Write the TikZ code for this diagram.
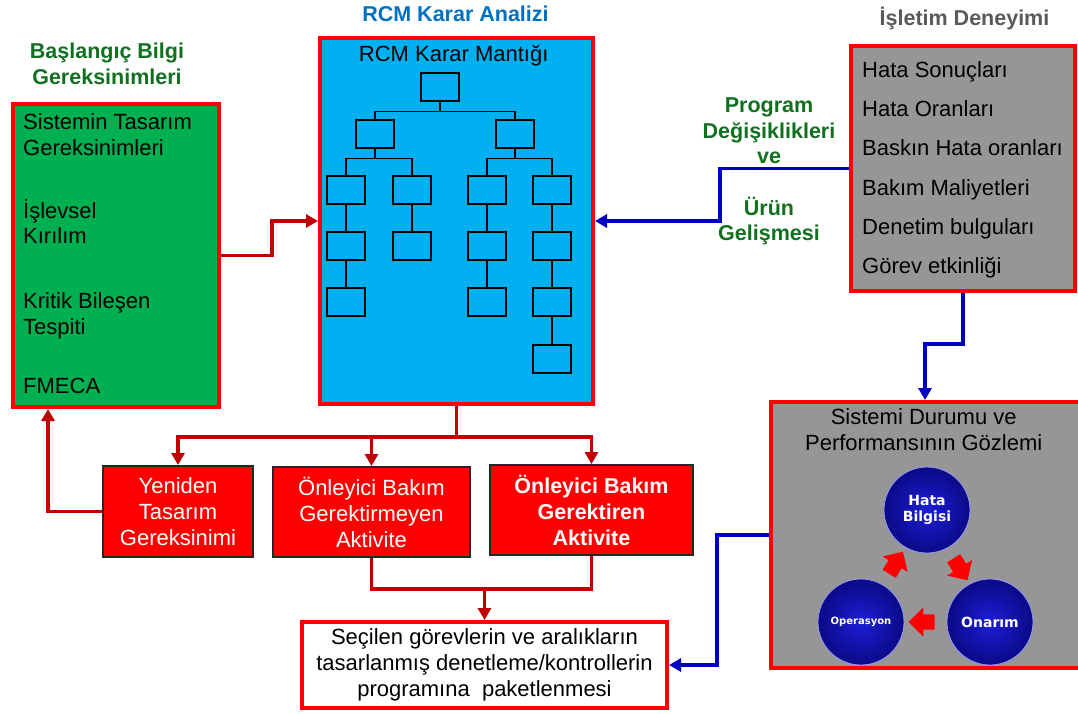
\documentclass[tikz,border=0pt]{standalone}
\usepackage{fontspec}
\setmainfont{Liberation Sans}
\newfontfamily\ballfont{DejaVu Sans}
\usetikzlibrary{arrows.meta}
\usetikzlibrary{positioning}
\usetikzlibrary{shapes.arrows}
\usetikzlibrary{calc}
\definecolor{mred}{rgb}{1, 0, 0}
\definecolor{dred}{RGB}{192, 0, 0}
\definecolor{mblue}{RGB}{0, 0, 195}
\definecolor{mgreen}{RGB}{0, 176, 80}
\definecolor{tgreen}{RGB}{16, 112, 32}
\definecolor{sky}{RGB}{0, 176, 240}
\definecolor{mgray}{RGB}{150, 150, 150}
\definecolor{tgray}{RGB}{89, 89, 89}
\definecolor{tblue}{RGB}{0, 112, 192}
\definecolor{orbin}{RGB}{30, 30, 215}
\definecolor{orbout}{RGB}{10, 10, 135}
\tikzset{
  panel/.style = {draw = mred, line width = 4, inner sep = 0},
  leaf/.style = {draw, line width = 1.3, minimum width = 38, minimum height = 28, inner sep = 0},
  twig/.style = {line width = 1.3},
  redbox/.style = {fill = mred, draw = black!85, line width = 2, text = white, align = center, inner sep = 0},
  title/.style = {font = \fontsize{21.5}{25.5}\selectfont\bfseries, align = center},
  item/.style = {anchor = base west, inner sep = 0},
  rline/.style = {draw = dred, line width = 3.5},
  bline/.style = {draw = mblue, line width = 3.5},
  tip/.style = {-{Triangle[length = 12, width = 13]}},
  orb/.style = {circle, minimum size = 86, inner color = orbin, outer color = orbout, draw = blue!40!white, line width = 0.8,
    text = white, align = center, inner sep = 0},
  turn/.style = {single arrow, fill = mred, minimum height = 26, inner sep = 7.5, single arrow head extend = 7}
}

\begin{document}
\begin{tikzpicture}[x = 1pt, y = -1pt, font = \fontsize{22}{26}\selectfont]
  \useasboundingbox (0, 0) rectangle (1078, 713);

  \node [panel, fill = mgreen, minimum width = 206, minimum height = 303, anchor = north west] (init) at (11, 102) {};
  \node [panel, fill = sky, minimum width = 273, minimum height = 366, anchor = north west] (rcm) at (318, 36) {};
  \node [panel, fill = mgray, minimum width = 224, minimum height = 245, anchor = north west] (ops) at (849, 44) {};
  \node [panel, fill = mgray, minimum width = 340, minimum height = 266, anchor = north west] (mon) at (769, 400) {};
  \node [panel, fill = white, minimum width = 365, minimum height = 86, anchor = north west, align = center] (pkg) at (300, 620)
    {Seçilen görevlerin ve aralıkların\\tasarlanmış denetleme/kontrollerin\\programına\ \ paketlenmesi};

  \node [redbox, minimum width = 150, minimum height = 91] (redo) at (178, 511.5) {Yeniden\\Tasarım\\Gereksinimi};
  \node [redbox, minimum width = 197, minimum height = 90] (noprev) at (371.5, 512) {Önleyici Bakım\\Gerektirmeyen\\Aktivite};
  \node [redbox, minimum width = 203, minimum height = 90, font = \fontsize{21.5}{26}\selectfont\bfseries] (prev) at (591.5, 510)
    {Önleyici Bakım\\Gerektiren\\Aktivite};

  % titles
  \node [title, text = tgreen] (inittitle) at (107, 64) {Başlangıç Bilgi\\Gereksinimleri};
  \node [title, text = tblue, anchor = base] (rcmtitle) at (455.5, 21.7) {RCM Karar Analizi};
  \node [title, text = tgray, anchor = base] (opstitle) at (964.5, 25) {İşletim Deneyimi};
  \node [title, text = tgreen] (change) at (769, 131) {Program\\Değişiklikleri\\ve};
  \node [title, text = tgreen] (growth) at (769, 221) {Ürün\\Gelişmesi};

  \foreach \y/\t [count = \i] in {129/Sistemin Tasarım, 155/Gereksinimleri, 218/İşlevsel, 243/Kırılım,
      308/Kritik Bileşen, 334/Tespiti, 393/FMECA}
    \node [item] (need\i) at (23, \y) {\t};
  \foreach \t [count = \i] in {Hata Sonuçları, Hata Oranları, Baskın Hata oranları, Bakım Maliyetleri,
      Denetim bulguları, Görev etkinliği}
    \node [item] (fact\i) at (862, {38 + 39.3 * \i}) {\t};

  % decision tree
  \node [anchor = base] (logic) at (453.7, 61.7) {RCM Karar Mantığı};
  \node [leaf] (root) at (440, 87) {};
  \node [leaf] (left) at (375, 134) {};
  \node [leaf] (right) at (515, 134) {};
  \foreach \x/\y/\n in {346/190/a1, 412/190/b1, 487/190/c1, 552/190/d1, 346/246/a2, 412/246/b2, 487/246/c2,
      552/246/d2, 346/302/a3, 487/302/c3, 552/302/d3, 552/359/d4}
    \node [leaf] (\n) at (\x, \y) {};
  \draw [twig] (root.south) -- ++(0, 9.5) -| (left.north);
  \draw [twig] (root.south) -- ++(0, 9.5) -| (right.north);
  \draw [twig] (left.south) -- ++(0, 9.5) -| (a1.north);
  \draw [twig] (left.south) -- ++(0, 9.5) -| (b1.north);
  \draw [twig] (right.south) -- ++(0, 9.5) -| (c1.north);
  \draw [twig] (right.south) -- ++(0, 9.5) -| (d1.north);
  \foreach \u/\v in {a1/a2, a2/a3, b1/b2, c1/c2, c2/c3, d1/d2, d2/d3, d3/d4}
    \draw [twig] (\u) -- (\v);

  % monitoring cycle
  \node [align = center] (montitle) at (923.7, 429.3) {Sistemi Durumu ve\\Performansının Gözlemi};
  \node [orb, font = \ballfont\bfseries\fontsize{14}{16.5}\selectfont] (fault) at (927, 510) {Hata\\Bilgisi};
  \node [orb, font = \ballfont\bfseries\fontsize{14}{16.5}\selectfont] (fix) at (990, 622) {Onarım};
  \node [orb, font = \ballfont\bfseries\fontsize{10}{12}\selectfont] (run) at (861, 622) {Operasyon};
  \node [turn, rotate = -58] (f2x) at ($(fault)!0.5!(fix)$) {};
  \node [turn, rotate = 180] (x2r) at ($(fix)!0.5!(run)$) {};
  \node [turn, rotate = 58] (r2f) at ($(run)!0.5!(fault)$) {};

  % connectors
  \draw [rline, tip] (init.east) -- ++(51, 0) |- (rcm.west);
  \draw [bline, tip] (ops.west) -- ++(-129, 0) |- (rcm.east);
  \draw [bline, tip] (ops.south) -- ++(0, 51) -| ([xshift = -16] mon.north);
  \draw [bline, tip] (mon.west) -- ++(-52, 0) |- (pkg.east);
  \draw [rline] (rcm.south) -- ++(0, 31) coordinate (split);
  \foreach \n in {redo, noprev, prev}
    \draw [rline, tip] (split) -| (\n.north);
  \draw [rline, tip] (redo.west) -| ([xshift = 37] init.south west);
  \draw [rline] (noprev.south) -- ++(0, 31) coordinate (join) -| (prev.south);
  \draw [rline, tip] (join -| pkg.north) -- (pkg.north);
\end{tikzpicture}
\end{document}
